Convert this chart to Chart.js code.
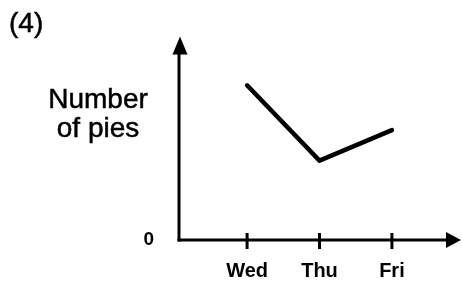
<!DOCTYPE html>
<html><head><meta charset="utf-8">
<script src="https://cdn.jsdelivr.net/npm/chart.js@4/dist/chart.umd.min.js"></script>
<style>
html,body{margin:0;padding:0;background:#fff;}
#wrap{position:relative;width:462px;height:283px;overflow:hidden;}
canvas{position:absolute;left:0;top:0;}
.t{position:absolute;font-family:'Liberation Sans',Arial,sans-serif;color:#000;white-space:nowrap;-webkit-text-stroke:0.5px #000;}
</style></head><body>
<div id="wrap">
<canvas id="c" width="462" height="283"></canvas>
<div class="t" style="left:9px;top:9px;font-size:28px;line-height:28px;">(4)</div>
<div class="t" style="left:38px;width:120px;top:84px;font-size:28px;line-height:29px;text-align:center;">Number<br>of pies</div>
</div>
<script>
const categories = ['Wed', 'Thu', 'Fri'];
const pies = [7.6, 3.9, 5.4];
const yTickValues = [0];

const FONT = "'Liberation Sans', Arial, sans-serif";

const axesPlugin = {
  id: 'axesArrows',
  afterDraw(chart) {
    const {ctx, chartArea: a, scales: {x}} = chart;
    ctx.save();
    ctx.strokeStyle = '#000';
    ctx.fillStyle = '#000';
    ctx.lineWidth = 3;
    ctx.lineCap = 'butt';
    // y axis
    ctx.beginPath();
    ctx.moveTo(a.left, a.bottom + 1.5);
    ctx.lineTo(a.left, a.top + 14);
    ctx.stroke();
    ctx.beginPath();
    ctx.moveTo(a.left + 1, a.top);
    ctx.lineTo(a.left + 8.5, a.top + 18);
    ctx.lineTo(a.left - 6.5, a.top + 18);
    ctx.closePath();
    ctx.fill();
    // x axis
    ctx.beginPath();
    ctx.moveTo(a.left - 1.5, a.bottom);
    ctx.lineTo(a.right - 10, a.bottom);
    ctx.stroke();
    ctx.beginPath();
    ctx.moveTo(a.right + 1, a.bottom);
    ctx.lineTo(a.right - 14, a.bottom - 8);
    ctx.lineTo(a.right - 14, a.bottom + 8);
    ctx.closePath();
    ctx.fill();
    // tick marks
    categories.forEach((c, i) => {
      const px = x.getPixelForValue(i + 1);
      ctx.beginPath();
      ctx.moveTo(px, a.bottom - 7);
      ctx.lineTo(px, a.bottom + 9);
      ctx.stroke();
    });
    ctx.restore();
  }
};

new Chart(document.getElementById('c'), {
  type: 'line',
  data: {
    datasets: [{
      data: categories.map((c, i) => ({x: i + 1, y: pies[i]})),
      borderColor: '#000',
      borderWidth: 4.5,
      pointRadius: 0,
      tension: 0,
      fill: false,
      borderCapStyle: 'round',
      borderJoinStyle: 'round'
    }]
  },
  options: {
    responsive: false,
    animation: false,
    devicePixelRatio: 1,
    layout: {padding: {left: 0, right: 2, top: 31, bottom: 0}},
    plugins: {legend: {display: false}, tooltip: {enabled: false}, title: {display: false}},
    scales: {
      x: {
        type: 'linear',
        min: 0.06,
        max: 3.94,
        afterBuildTicks: s => { s.ticks = categories.map((c, i) => ({value: i + 1})); },
        afterFit: s => { s.height = 43; },
        ticks: {
          callback: (v, i) => categories[i],
          font: {family: FONT, size: 20, weight: 'bold'},
          color: '#000',
          padding: 19,
          autoSkip: false,
          maxRotation: 0
        },
        grid: {display: false, drawTicks: false},
        border: {display: false}
      },
      y: {
        type: 'linear',
        min: 0,
        max: 10,
        afterBuildTicks: s => { s.ticks = yTickValues.map(v => ({value: v})); },
        afterFit: s => { s.width = 179; },
        ticks: {
          callback: v => String(v),
          font: {family: FONT, size: 19, weight: 'bold'},
          color: '#000',
          padding: 25
        },
        grid: {display: false, drawTicks: false},
        border: {display: false}
      }
    }
  },
  plugins: [axesPlugin]
});
</script>
</body></html>
